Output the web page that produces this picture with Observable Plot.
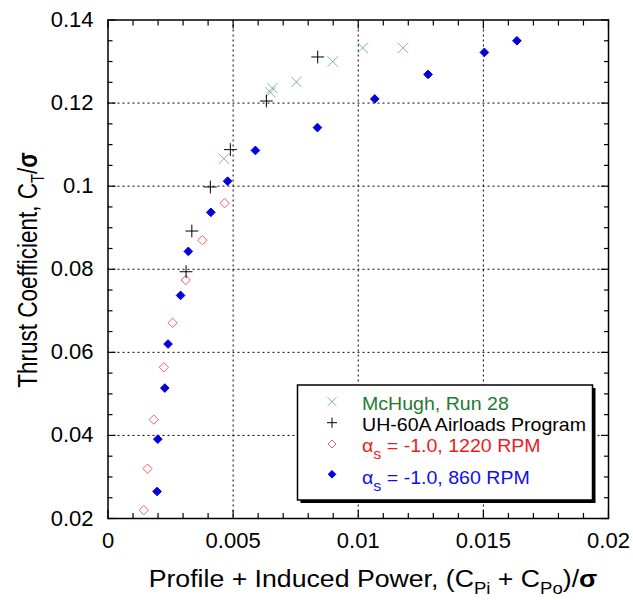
<!DOCTYPE html>
<html><head><meta charset="utf-8">
<script src="https://cdn.jsdelivr.net/npm/d3@7"></script>
<script src="https://cdn.jsdelivr.net/npm/@observablehq/plot@0.6"></script>
<style>
body{margin:0;background:#fff;font-family:"Liberation Sans",Arial,sans-serif;}
#wrap{position:relative;width:633px;height:600px;}
</style></head><body><div id="wrap"></div>
<script>
// McHugh, Run 28
const mchughX = [0.00463, 0.00649, 0.00657, 0.00753, 0.00898, 0.01018, 0.01179];
const mchughY = [0.1066, 0.1226, 0.1236, 0.1251, 0.1300, 0.1333, 0.1333];
// UH-60A Airloads Program
const uhX = [0.00312, 0.00335, 0.00409, 0.00489, 0.00633, 0.00838];
const uhY = [0.0794, 0.0892, 0.0998, 0.1088, 0.1205, 0.1311];
// alpha_s = -1.0, 1220 RPM
const rpm1220X = [0.00143, 0.00158, 0.00183, 0.00223, 0.00258, 0.00311, 0.00377, 0.00466];
const rpm1220Y = [0.0220, 0.0320, 0.0438, 0.0564, 0.0671, 0.0774, 0.0870, 0.0959];
// alpha_s = -1.0, 860 RPM
const rpm860X = [0.00196, 0.00199, 0.00227, 0.00240, 0.00290, 0.00321, 0.00411, 0.00478, 0.00589, 0.00837, 0.01066, 0.01279, 0.01504, 0.01634];
const rpm860Y = [0.0265, 0.0391, 0.0514, 0.0620, 0.0737, 0.0843, 0.0937, 0.1012, 0.1086, 0.1141, 0.1210, 0.1269, 0.1322, 0.1350];

const xTicks = [0, 0.005, 0.01, 0.015, 0.02];
const yTicks = [0.02, 0.04, 0.06, 0.08, 0.1, 0.12, 0.14];
const xGridVals = [0.005, 0.01, 0.015];
const yGridVals = [0.04, 0.06, 0.08, 0.1, 0.12];
const xMinor = [0.001,0.002,0.003,0.004,0.006,0.007,0.008,0.009,0.011,0.012,0.013,0.014,0.016,0.017,0.018,0.019];
const yMinor = [0.025,0.03,0.035,0.045,0.05,0.055,0.065,0.07,0.075,0.085,0.09,0.095,0.105,0.11,0.115,0.125,0.13,0.135];

const legendItems = ["McHugh, Run 28", "UH-60A Airloads Program", " = -1.0, 1220 RPM", " = -1.0, 860 RPM"];

const rows = (xs, ys) => xs.map((x, i) => ({x, y: ys[i]}));
const mchugh = rows(mchughX, mchughY);
const uh = rows(uhX, uhY);
const r1220 = rows(rpm1220X, rpm1220Y);
const r860 = rows(rpm860X, rpm860Y);

const GREEN = "#2e8a44", RED = "#f06060", BLUE = "#0000e0";
const fmt = d => String(d);
const dotted = {stroke: "black", strokeOpacity: 1, strokeDasharray: "2,3", strokeWidth: 1};
const tk = {text: null, label: null, strokeWidth: 1.2};

const plot = Plot.plot({
  width: 633, height: 600,
  marginLeft: 107.5, marginRight: 25, marginTop: 19.5, marginBottom: 82,
  x: {domain: [0, 0.02]},
  y: {domain: [0.02, 0.14]},
  style: {fontFamily: "'Liberation Sans', Arial, sans-serif", fontSize: "22px", color: "black", background: "white"},
  marks: [
    Plot.gridX(xGridVals, dotted),
    Plot.gridY(yGridVals, dotted),
    Plot.axisX(xMinor, {anchor: "bottom", tickSize: -5, ...tk}),
    Plot.axisX(xMinor, {anchor: "top", tickSize: -5, ...tk}),
    Plot.axisY(yMinor, {anchor: "left", tickSize: -5, ...tk}),
    Plot.axisY(yMinor, {anchor: "right", tickSize: -5, ...tk}),
    Plot.axisX(xTicks, {anchor: "bottom", tickSize: -8, ...tk}),
    Plot.axisX(xTicks, {anchor: "top", tickSize: -8, ...tk}),
    Plot.axisY(yTicks, {anchor: "left", tickSize: -8, ...tk}),
    Plot.axisY(yTicks, {anchor: "right", tickSize: -8, ...tk}),
    Plot.axisX(xTicks, {anchor: "bottom", tickSize: 0, tickPadding: 13.5, tickFormat: fmt, label: null, fontSize: 22, ariaLabel: "xlab"}),
    Plot.axisY(yTicks, {anchor: "left", tickSize: 0, tickPadding: 14.5, tickFormat: fmt, label: null, fontSize: 22, ariaLabel: "ylab"}),
    Plot.frame({stroke: "black", strokeWidth: 1.5}),
    Plot.dot(r1220, {x: "x", y: "y", symbol: "diamond2", r: 4.2, stroke: RED, fill: "none", strokeWidth: 1}),
    Plot.dot(r860, {x: "x", y: "y", symbol: "diamond2", r: 3.9, stroke: BLUE, fill: BLUE, strokeWidth: 1}),
    Plot.dot(mchugh, {x: "x", y: "y", symbol: "times", r: 4.8, stroke: GREEN, strokeOpacity: 0.6, strokeWidth: 1}),
    Plot.dot(uh, {x: "x", y: "y", symbol: "plus", r: 4.2, stroke: "black", strokeWidth: 1})
  ]
});

const svg = d3.select(plot);
// slightly wider glyphs, as in the reference
svg.selectAll('g[aria-label="xlab"] text, g[aria-label="ylab"] text').each(function() {
  const t = this.getAttribute("transform") || "";
  this.setAttribute("transform", t + " scale(1.12,1)");
});

const yt = svg.append("text").attr("transform", "translate(37,270) rotate(-90) scale(1,1.2)")
  .attr("text-anchor", "middle").attr("font-size", 22.5).attr("fill", "black");
yt.append("tspan").text("Thrust Coefficient, C");
yt.append("tspan").attr("dy", 6).attr("font-size", 15).text("T");
yt.append("tspan").attr("dy", -6).text("/");
yt.append("tspan").attr("font-weight", "bold").text("σ");

const xt = svg.append("text").attr("transform", "translate(373,587) scale(1.16,1)")
  .attr("text-anchor", "middle").attr("font-size", 23).attr("fill", "black");
xt.append("tspan").text("Profile + Induced Power, (C");
xt.append("tspan").attr("dy", 7).attr("font-size", 16).text("Pi");
xt.append("tspan").attr("dy", -7).text(" + C");
xt.append("tspan").attr("dy", 7).attr("font-size", 16).text("Po");
xt.append("tspan").attr("dy", -7).text(")/");
xt.append("tspan").attr("font-weight", "bold").text("σ");

// legend
const lg = svg.append("g").attr("aria-label", "legend").attr("text-anchor", "start");
lg.append("rect").attr("x", 300.5).attr("y", 388).attr("width", 295).attr("height", 115).attr("fill", "black");
lg.append("rect").attr("x", 297.5).attr("y", 385).attr("width", 295).attr("height", 115)
  .attr("fill", "white").attr("stroke", "black").attr("stroke-width", 1.5);
const sx = 332;
lg.append("path").attr("d", `M${sx-4.5},397.2L${sx+4.5},406.2M${sx+4.5},397.2L${sx-4.5},406.2`).attr("stroke", GREEN).attr("stroke-opacity", 0.6).attr("fill", "none");
lg.append("path").attr("d", `M${sx-5},422.7H${sx+5}M${sx},417.7V427.7`).attr("stroke", "black").attr("fill", "none");
lg.append("path").attr("d", `M${sx},440L${sx+4},444L${sx},448L${sx-4},444Z`).attr("stroke", RED).attr("fill", "none");
lg.append("path").attr("d", `M${sx},470.5L${sx+3.8},474.3L${sx},478.1L${sx-3.8},474.3Z`).attr("stroke", BLUE).attr("fill", BLUE);

const legText = (y, color) => lg.append("text").attr("transform", `translate(362,${y}) scale(1.07,1)`)
  .attr("text-anchor", "start").attr("font-size", 18.3).attr("fill", color);
legText(409.5, "#1f7a30").text(legendItems[0]);
legText(430.5, "black").text(legendItems[1]);
const t3 = legText(452, "#ee1c1c");
t3.append("tspan").text("α");
t3.append("tspan").attr("dy", 7).attr("font-size", 15).text("s");
t3.append("tspan").attr("dy", -7).text(legendItems[2]);
const t4 = legText(484, "#1010ee");
t4.append("tspan").text("α");
t4.append("tspan").attr("dy", 7).attr("font-size", 15).text("s");
t4.append("tspan").attr("dy", -7).text(legendItems[3]);

document.getElementById("wrap").appendChild(plot);
</script>
</body></html>
